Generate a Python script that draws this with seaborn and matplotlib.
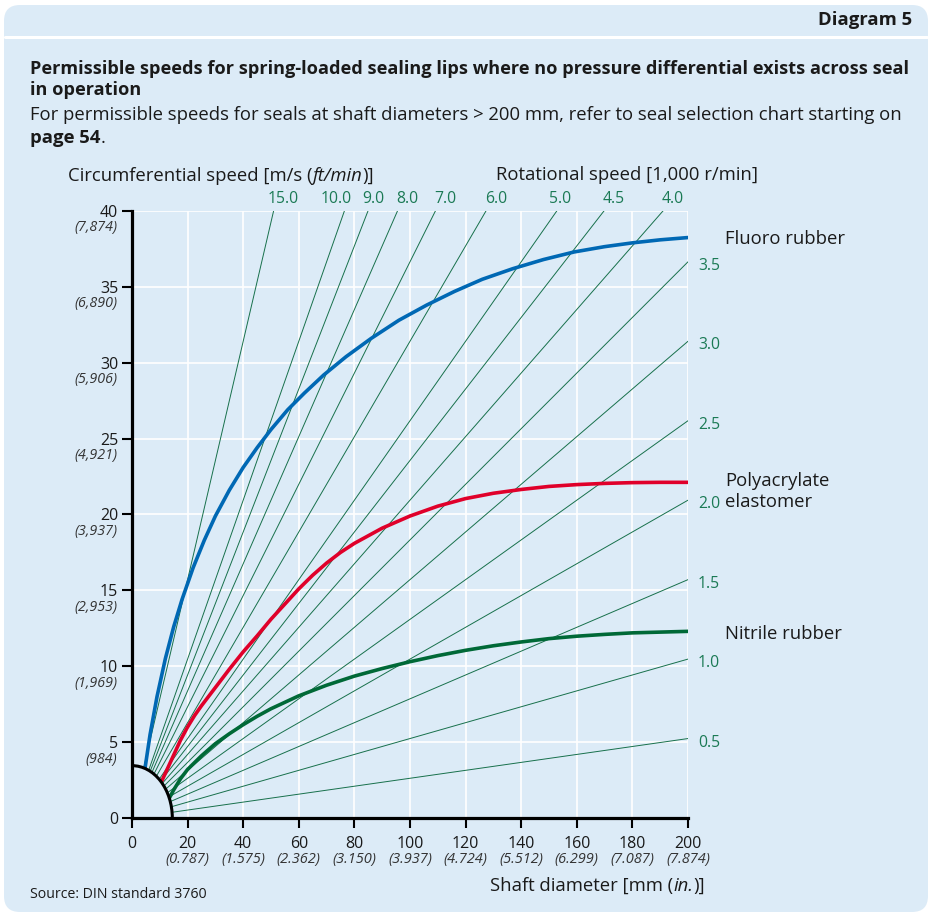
import numpy as np
import pandas as pd
import matplotlib
matplotlib.use("Agg")
import matplotlib.pyplot as plt
from matplotlib.patches import Ellipse, FancyBboxPatch
from matplotlib.lines import Line2D
import seaborn as sns

# rotational speeds [1,000 r/min], labelled along the top and along the right edge
top_speeds = [15.0, 10.0, 9.0, 8.0, 7.0, 6.0, 5.0, 4.5, 4.0]
side_speeds = [3.5, 3.0, 2.5, 2.0, 1.5, 1.0, 0.5]

diam_ticks = [0, 20, 40, 60, 80, 100, 120, 140, 160, 180, 200]
diam_inch = ["", "(0.787)", "(1.575)", "(2.362)", "(3.150)", "(3.937)",
             "(4.724)", "(5.512)", "(6.299)", "(7.087)", "(7.874)"]
speed_ticks = [0, 5, 10, 15, 20, 25, 30, 35, 40]
speed_ftmin = ["", "(984)", "(1,969)", "(2,953)", "(3,937)", "(4,921)",
               "(5,906)", "(6,890)", "(7,874)"]

# permissible speed curves (shaft diameter mm, speed m/s)
fluoro_d = [4.7, 6.5, 9, 12, 15, 18, 22, 26, 30, 35, 40, 45, 50, 56, 62, 69, 77, 86,
            96, 106, 116, 126, 137, 148, 159, 170, 180, 190, 200]
fluoro_v = [3.3, 5.5, 8.0, 10.5, 12.6, 14.4, 16.5, 18.3, 19.9, 21.6, 23.1, 24.4, 25.6,
            26.9, 28.0, 29.2, 30.4, 31.6, 32.8, 33.8, 34.7, 35.5, 36.2, 36.8, 37.3,
            37.65, 37.9, 38.1, 38.25]

poly_d = [10.1, 12, 15, 17.5, 20, 22.5, 25, 30, 35, 40, 45, 50, 55, 60, 65, 70, 75, 80,
          85, 90, 95, 100, 110, 120, 130, 140, 150, 160, 170, 180, 190, 200]
poly_v = [2.2, 2.95, 4.15, 5.15, 6.0, 6.75, 7.4, 8.6, 9.8, 10.95, 12.0, 13.1, 14.1, 15.1,
          16.0, 16.8, 17.5, 18.1, 18.6, 19.1, 19.5, 19.9, 20.55, 21.05, 21.4, 21.65,
          21.85, 21.97, 22.05, 22.1, 22.12, 22.12]

nitrile_d = [13.1, 15, 17.5, 20, 25, 30, 35, 40, 45, 50, 60, 70, 80, 90, 100, 110, 120,
             130, 140, 150, 160, 170, 180, 190, 200]
nitrile_v = [1.2, 1.85, 2.6, 3.2, 4.1, 4.9, 5.55, 6.15, 6.7, 7.2, 8.05, 8.75, 9.35, 9.85,
             10.3, 10.7, 11.05, 11.35, 11.6, 11.82, 11.98, 12.1, 12.2, 12.25, 12.3]

BG = "#dcebf7"
RAY = "#17704b"
RAY_TXT = "#1b7a55"
INK = "#1a1a1a"
colors = {"Fluoro rubber": "#0068b4", "Polyacrylate\nelastomer": "#e0002a",
          "Nitrile rubber": "#006937"}
# horizontal nudges (pixels) of the top speed labels relative to their line
top_shift = {10.0: -8, 9.0: 5, 5.0: 3}

sns.set_style("white")
plt.rcParams["font.family"] = ["Open Sans", "DejaVu Sans"]

fig = plt.figure(figsize=(9.32, 9.17), dpi=100, facecolor="white")
fig.patches.append(FancyBboxPatch((0.04, 0.05), 9.24, 9.07, boxstyle="round,pad=0,rounding_size=0.16",
                                  transform=fig.dpi_scale_trans, facecolor=BG, edgecolor="none",
                                  zorder=-5))
fig.add_artist(Line2D([0.005, 0.995], [0.9597, 0.9597], color="white", lw=2.2,
                      transform=fig.transFigure, zorder=-4))

ax = fig.add_axes([132 / 932, 1 - 818 / 917, 556 / 932, 607 / 917])
ax.set_facecolor(BG)

# constant rotational speed lines, v = pi * d * n / 60
rows = []
for n in top_speeds + side_speeds:
    for d in (0, 200):
        rows.append({"d": d, "v": np.pi * d * n / 60, "n": n})
rays = pd.DataFrame(rows)
sns.lineplot(data=rays, x="d", y="v", units="n", estimator=None, color=RAY, lw=0.7,
             ax=ax, legend=False, zorder=2)

curves = pd.concat([
    pd.DataFrame({"d": fluoro_d, "v": fluoro_v, "material": "Fluoro rubber"}),
    pd.DataFrame({"d": poly_d, "v": poly_v, "material": "Polyacrylate\nelastomer"}),
    pd.DataFrame({"d": nitrile_d, "v": nitrile_v, "material": "Nitrile rubber"}),
])
sns.lineplot(data=curves, x="d", y="v", hue="material", palette=colors, estimator=None,
             lw=2.6, ax=ax, legend=False, zorder=3)
for line in ax.lines:
    line.set_solid_joinstyle("round")

ax.add_patch(Ellipse((0, 0), 29, 6.9, facecolor=BG, edgecolor="black", lw=2.2, zorder=4))

ax.set_xlim(0, 200)
ax.set_ylim(0, 40)
ax.set_xlabel("")
ax.set_ylabel("")
ax.set_xticks(diam_ticks)
ax.set_yticks(speed_ticks)
ax.grid(True, color="white", lw=1.2)
ax.set_axisbelow(True)
for side in ("top", "right"):
    ax.spines[side].set_visible(False)
for side in ("left", "bottom"):
    ax.spines[side].set_linewidth(2.3)
    ax.spines[side].set_color("black")
    ax.spines[side].set_zorder(5)
ax.tick_params(axis="both", direction="out", length=7, width=1.5, color="black",
               labelsize=11.5, labelcolor=INK, left=True, bottom=True)
ax.tick_params(axis="y", pad=3)
ax.tick_params(axis="x", pad=6)

for d, lab in zip(diam_ticks, diam_inch):
    ax.annotate(lab, xy=(d, 0), xycoords=ax.get_xaxis_transform(), xytext=(0, -42),
                textcoords="offset pixels", ha="center", va="center", fontsize=10.5,
                style="italic", color="#333333")
for v, lab in zip(speed_ticks, speed_ftmin):
    ax.annotate(lab, xy=(0, v), xycoords=ax.get_yaxis_transform(), xytext=(-15, -17),
                textcoords="offset pixels", ha="right", va="center", fontsize=10.3,
                style="italic", color="#333333")

for n in top_speeds:
    ax.annotate(f"{n:.1f}", xy=(40 * 60 / (np.pi * n), 40), xytext=(top_shift.get(n, 10), 12),
                textcoords="offset pixels", ha="center", va="center", fontsize=11.3,
                color=RAY_TXT, annotation_clip=False)
for n in side_speeds:
    ax.annotate(f"{n:.1f}", xy=(200, np.pi * 200 * n / 60), xytext=(10, -4),
                textcoords="offset pixels", ha="left", va="center", fontsize=11.3,
                color=RAY_TXT, annotation_clip=False)

label_dy = {"Fluoro rubber": -1, "Polyacrylate\nelastomer": -9, "Nitrile rubber": -3}
for name, grp in curves.groupby("material", sort=False):
    ax.annotate(name, xy=(grp["d"].iloc[-1], grp["v"].iloc[-1]), xytext=(37, label_dy[name]),
                textcoords="offset pixels", ha="left", va="center", fontsize=13.3,
                color=INK, linespacing=1.2, annotation_clip=False)


def styled(parts, x, y, size):
    # chain text pieces of different styles along one baseline
    first, style, weight = parts[0]
    t = fig.text(x, y, first, fontsize=size, style=style, weight=weight,
                 va="bottom", color=INK)
    for txt, style, weight in parts[1:]:
        t = ax.annotate(txt, xy=(1, 0), xycoords=t, va="bottom", ha="left",
                        fontsize=size, style=style, weight=weight, color=INK,
                        annotation_clip=False)


fig.text(0.9785, 0.978, "Diagram 5", ha="right", va="center", fontsize=13.3,
         weight="bold", color=INK)
fig.text(0.0322, 0.9248, "Permissible speeds for spring-loaded sealing lips where no pressure "
         "differential exists across seal", va="center", fontsize=13.1, weight="bold", color=INK)
fig.text(0.0322, 0.9015, "in operation", va="center", fontsize=13.1, weight="bold", color=INK)
fig.text(0.0322, 0.8745, "For permissible speeds for seals at shaft diameters > 200 mm, refer "
         "to seal selection chart starting on", va="center", fontsize=13.3, color=INK)
styled([("page 54", "normal", "bold"), (".", "normal", "normal")], 0.0322, 0.840, 13.3)

styled([("Circumferential speed [m/s (", "normal", "normal"), ("ft/min", "italic", "normal"),
        (")]", "normal", "normal")], 0.073, 0.798, 13.3)
fig.text(0.532, 0.8093, "Rotational speed [1,000 r/min]", va="center", fontsize=13.3,
         color=INK)
styled([("Shaft diameter [mm (", "normal", "normal"), ("in.", "italic", "normal"),
        (")]", "normal", "normal")], 0.5258, 0.024, 13.3)
fig.text(0.0322, 0.025, "Source: DIN standard 3760", va="center", fontsize=10.2, color=INK)

fig.savefig("out.png", dpi=100)
